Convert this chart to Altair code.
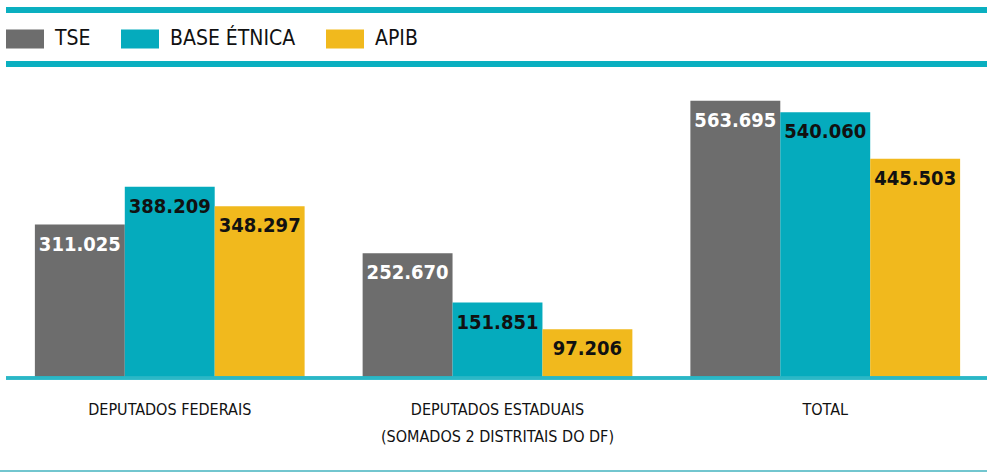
import altair as alt
import pandas as pd

categories = ["DEPUTADOS FEDERAIS", "DEPUTADOS ESTADUAIS|(SOMADOS 2 DISTRITAIS DO DF)", "TOTAL"]
series = ["TSE", "BASE ÉTNICA", "APIB"]
tse = [311025, 252670, 563695]
base_etnica = [388209, 151851, 540060]
apib = [348297, 97206, 445503]
colors = ["#6d6d6d", "#05abbd", "#f1b91d"]

rows = []
for i, c in enumerate(categories):
    for s, vals in zip(series, [tse, base_etnica, apib]):
        rows.append({"category": c, "series": s, "value": vals[i]})
df = pd.DataFrame(rows)

FONT = "DejaVu Sans Condensed, Roboto, sans-serif"
TEAL = "#0aafc0"
W, H = 979, 294

x_enc = alt.X("category:N", sort=categories,
              scale=alt.Scale(paddingInner=0.177, paddingOuter=0.082),
              axis=alt.Axis(title=None, domain=False, ticks=False, labelAngle=0,
                            labelFont=FONT, labelFontSize=16, labelColor="#111111",
                            labelPadding=24, labelLineHeight=27, labelLimit=600,
                            labelExpr="split(datum.label, '|')"))
xo_enc = alt.XOffset("series:N", sort=series, scale=alt.Scale(paddingInner=0, paddingOuter=0))
y_enc = alt.Y("value:Q", scale=alt.Scale(domain=[0, 600000], nice=False),
              axis=None)

legend = alt.Legend(title=None, orient="none", legendX=-2, legendY=-63,
                    direction="horizontal", columns=3, columnPadding=30,
                    symbolType="M-1,-0.5H1V0.5H-1Z", symbolSize=1444,
                    symbolStrokeWidth=0, symbolOpacity=1,
                    labelFont=FONT, labelFontSize=21, labelColor="#111111",
                    labelOffset=11, padding=0)

bars = alt.Chart(df).mark_bar().encode(
    x=x_enc, xOffset=xo_enc, y=y_enc,
    color=alt.Color("series:N", sort=series,
                    scale=alt.Scale(domain=series, range=colors), legend=legend),
)

labels = alt.Chart(df).transform_calculate(
    txt="replace(format(datum.value, ','), /,/g, '.')"
).mark_text(font=FONT, fontSize=20, fontWeight="bold", baseline="alphabetic", dy=26).encode(
    x=x_enc, xOffset=xo_enc, y=y_enc,
    text="txt:N",
    color=alt.condition(alt.datum.series == "TSE", alt.value("white"), alt.value("#111111")),
)

line_top = alt.Chart(df).mark_rule(color=TEAL, strokeWidth=5).encode(
    x=alt.value(-2), x2=alt.value(990), y=alt.value(-73))
line_mid = alt.Chart(df).mark_rule(color=TEAL, strokeWidth=5).encode(
    x=alt.value(-2), x2=alt.value(990), y=alt.value(-19))
baseline = alt.Chart(df).mark_rule(color="#2bb7c6", strokeWidth=2.5).encode(
    x=alt.value(-2), x2=alt.value(990), y=alt.value(H + 1))
line_bottom = alt.Chart(df).mark_rule(color="#72c6cf", strokeWidth=2).encode(
    x=alt.value(-8), x2=alt.value(990), y=alt.value(388))

chart = alt.layer(bars, labels, line_top, line_mid, baseline, line_bottom).properties(
    width=W, height=H,
    background="white",
    padding={"left": 8, "top": 83, "right": 0, "bottom": 95},
    autosize=alt.AutoSizeParams(type="none"),
).configure_view(stroke=None)

chart.save("out.html", embed_options={"renderer": "svg", "actions": False})
